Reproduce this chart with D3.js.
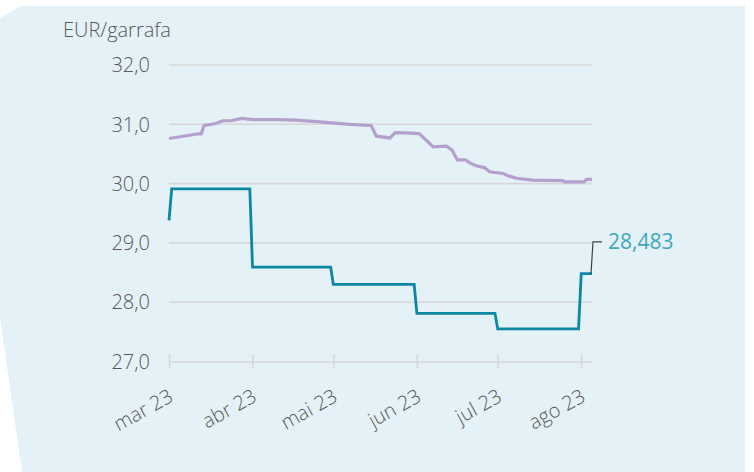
<!DOCTYPE html>
<html>
<head>
<meta charset="utf-8">
<script src="https://cdn.jsdelivr.net/npm/d3@7"></script>
<style>
  html, body { margin: 0; padding: 0; background: #ffffff; }
  svg text { font-family: "Open Sans", "Noto Sans", sans-serif; font-weight: 300; }
</style>
</head>
<body>
<div id="plot"></div>
<script>
// values
const tickDates = ["2023-03-01", "2023-04-01", "2023-05-01", "2023-06-01", "2023-07-01", "2023-08-01"];
const tickLabels = ["mar 23", "abr 23", "mai 23", "jun 23", "jul 23", "ago 23"];
const yTicks = [27, 28, 29, 30, 31, 32];

// teal step line (price)
const precoDates = ["2023-03-01", "2023-03-02", "2023-03-31", "2023-04-01", "2023-04-30", "2023-05-01",
    "2023-05-31", "2023-06-01", "2023-06-30", "2023-07-01", "2023-07-31", "2023-08-01", "2023-08-05"];
const precoValues = [29.38, 29.91, 29.91, 28.59, 28.59, 28.30, 28.30, 27.81, 27.81, 27.55, 27.55, 28.483, 28.483];

// lilac line
const mediaDates = ["2023-03-01", "2023-03-12", "2023-03-13", "2023-03-14", "2023-03-18", "2023-03-21",
    "2023-03-24", "2023-03-28", "2023-04-01", "2023-04-10", "2023-04-17", "2023-04-26", "2023-05-07",
    "2023-05-15", "2023-05-17", "2023-05-22", "2023-05-24", "2023-05-30", "2023-06-02", "2023-06-04",
    "2023-06-05", "2023-06-07", "2023-06-12", "2023-06-14", "2023-06-16", "2023-06-19", "2023-06-21",
    "2023-06-23", "2023-06-26", "2023-06-28", "2023-07-03", "2023-07-05", "2023-07-08", "2023-07-14",
    "2023-07-25", "2023-07-26", "2023-08-02", "2023-08-03", "2023-08-05"];
const mediaValues = [30.76, 30.84, 30.84, 30.98, 31.01, 31.06, 31.06, 31.10, 31.08, 31.08, 31.07, 31.04, 31.00,
    30.98, 30.80, 30.77, 30.86, 30.85, 30.84, 30.75, 30.71, 30.62, 30.63, 30.57, 30.40, 30.40, 30.34,
    30.30, 30.27, 30.20, 30.17, 30.13, 30.09, 30.06, 30.05, 30.03, 30.03, 30.07, 30.07];

const unitLabel = "EUR/garrafa";
const lastLabel = "28,483";

const w = 754;
const h = 472;
const parse = d3.utcParse("%Y-%m-%d");

const svg = d3.select("div#plot")
    .append("svg")
    .attr("width", w)
    .attr("height", h);

// light blue panel with the cut corners
svg.append("polygon")
    .attr("points", "22,6 745,6 745,472 22,472 0,318 0,18")
    .attr("fill", "#e4f1f6");

const x = d3.scaleUtc()
    .domain([parse("2023-03-01"), parse("2023-08-05")])
    .range([169, 592]);

const y = d3.scaleLinear()
    .domain([27, 32])
    .range([361.5, 65]);

const fmt = d3.format(".1f");

// gridlines
svg.append("g")
    .selectAll("line")
    .data(yTicks.filter(d => d > 27))
    .enter().append("line")
    .attr("x1", x.range()[0])
    .attr("x2", x.range()[1])
    .attr("y1", d => y(d))
    .attr("y2", d => y(d))
    .attr("stroke", "#d8d8d8")
    .attr("stroke-width", 1.6);

// y labels
svg.append("g")
    .selectAll("text")
    .data(yTicks)
    .enter().append("text")
    .attr("x", 150)
    .attr("y", d => y(d))
    .attr("dy", "0.36em")
    .attr("text-anchor", "end")
    .attr("fill", "#595959")
    .style("font-size", "20px")
    .text(d => fmt(d).replace(".", ","));

svg.append("text")
    .attr("x", 63)
    .attr("y", 37)
    .attr("fill", "#595959")
    .style("font-size", "20px")
    .text(unitLabel);

// x axis
const xAxis = d3.axisBottom(x)
    .tickValues(tickDates.map(parse))
    .tickSizeInner(7)
    .tickSizeOuter(0)
    .tickFormat((d, i) => tickLabels[i]);

const gx = svg.append("g")
    .attr("transform", `translate(0, ${y(27)})`)
    .call(xAxis);

gx.select(".domain").attr("stroke", "#d8d8d8").attr("stroke-width", 1.6);
gx.selectAll(".tick line")
    .attr("y1", -7)
    .attr("stroke", "#d8d8d8")
    .attr("stroke-width", 1.6);
gx.selectAll(".tick text")
    .attr("y", 0)
    .attr("dy", 0)
    .attr("transform", "translate(5, 39) rotate(-29)")
    .attr("text-anchor", "end")
    .attr("fill", "#595959")
    .style("font-size", "20px")
    .style("font-family", "'Open Sans', sans-serif")
    .style("font-weight", 300);

const line = d3.line()
    .x(d => x(d[0]))
    .y(d => y(d[1]));

const mediaData = mediaDates.map((d, i) => [parse(d), mediaValues[i]]);
const precoData = precoDates.map((d, i) => [parse(d), precoValues[i]]);

svg.append("path")
    .datum(mediaData)
    .attr("d", line)
    .attr("fill", "none")
    .attr("stroke", "#b4a0cd")
    .attr("stroke-width", 3.2);

svg.append("path")
    .datum(precoData)
    .attr("d", line)
    .attr("fill", "none")
    .attr("stroke", "#0b87a6")
    .attr("stroke-width", 2.8);

// callout for the last value
const last = precoData[precoData.length - 1];
const lx = x(last[0]);
const ly = y(last[1]);
const ty = y(29) - 1;

svg.append("path")
    .attr("d", `M${lx - 1},${ly} L${lx + 1},${ty} L${lx + 10},${ty}`)
    .attr("fill", "none")
    .attr("stroke", "#404040")
    .attr("stroke-width", 1.2);

svg.append("text")
    .attr("x", lx + 16)
    .attr("y", ty)
    .attr("dy", "0.36em")
    .attr("fill", "#3fa6c1")
    .style("font-size", "21px")
    .style("font-weight", 400)
    .text(lastLabel);
</script>
</body>
</html>
